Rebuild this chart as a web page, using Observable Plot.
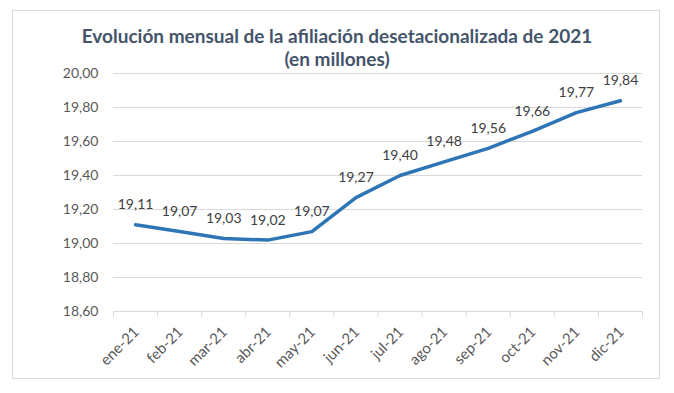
<!DOCTYPE html>
<html><head><meta charset="utf-8">
<script src="https://cdn.jsdelivr.net/npm/d3@7"></script>
<script src="https://cdn.jsdelivr.net/npm/@observablehq/plot@0.6"></script>
<style>
body{margin:0;background:#fff;font-family:Lato,"Liberation Sans",sans-serif;}
#wrap{position:relative;width:674px;height:393px;overflow:hidden;}
#frame{position:absolute;left:12px;top:10px;width:648px;height:369px;border:1px solid #d9d9d9;box-sizing:border-box;}
#title{position:absolute;left:0;top:24px;width:674px;text-align:center;font-weight:bold;font-size:19px;line-height:23px;color:#44546A;}
#chart{position:absolute;left:0;top:0;}
</style></head>
<body><div id="wrap"><div id="frame"></div><div id="chart"></div>
<div id="title">Evolución mensual de la afiliación desetacionalizada de 2021<br>(en millones)</div></div>
<script>
const months = ["ene-21","feb-21","mar-21","abr-21","may-21","jun-21","jul-21","ago-21","sep-21","oct-21","nov-21","dic-21"];
const values = [19.11,19.07,19.03,19.02,19.07,19.27,19.40,19.48,19.56,19.66,19.77,19.84];
const yTicks = [18.6,18.8,19.0,19.2,19.4,19.6,19.8,20.0];

const data = months.map((m,i)=>({i, m, v: values[i]}));
const fmt = v => d3.format(".2f")(v).replace(".", ",");
const boundaries = d3.range(months.length + 1).map(k => k - 0.5);

const plot = Plot.plot({
  width: 674, height: 393,
  marginTop: 73, marginBottom: 82, marginLeft: 113, marginRight: 32,
  style: {fontFamily: "Lato, 'Liberation Sans', sans-serif", fontSize: "14px", background: "transparent"},
  x: {type: "linear", domain: [-0.5, months.length - 0.5]},
  y: {domain: [18.6, 20.0]},
  marks: [
    Plot.gridY(yTicks, {stroke: "#d9d9d9", strokeOpacity: 1}),
    Plot.axisY(yTicks, {tickSize: 0, tickPadding: 15, tickFormat: fmt, fill: "#595959", fontSize: 14, label: null}),
    Plot.axisX(boundaries, {tickSize: 6, stroke: "#d9d9d9", tickFormat: () => "", label: null}),
    Plot.axisX(d3.range(months.length), {tickSize: 0, tickRotate: -45, tickPadding: 6, tickFormat: i => months[i], fill: "#595959", fontSize: 15, label: null, dx: 1, dy: 12}),
    Plot.line(data, {x: "i", y: "v", stroke: "#2E75B6", strokeWidth: 3.5, strokeLinejoin: "round", strokeLinecap: "round"}),
    Plot.text(data, {x: "i", y: "v", text: d => fmt(d.v), dy: -20, fill: "#404040", fontSize: 14})
  ]
});
document.getElementById("chart").appendChild(plot);
</script></body></html>
